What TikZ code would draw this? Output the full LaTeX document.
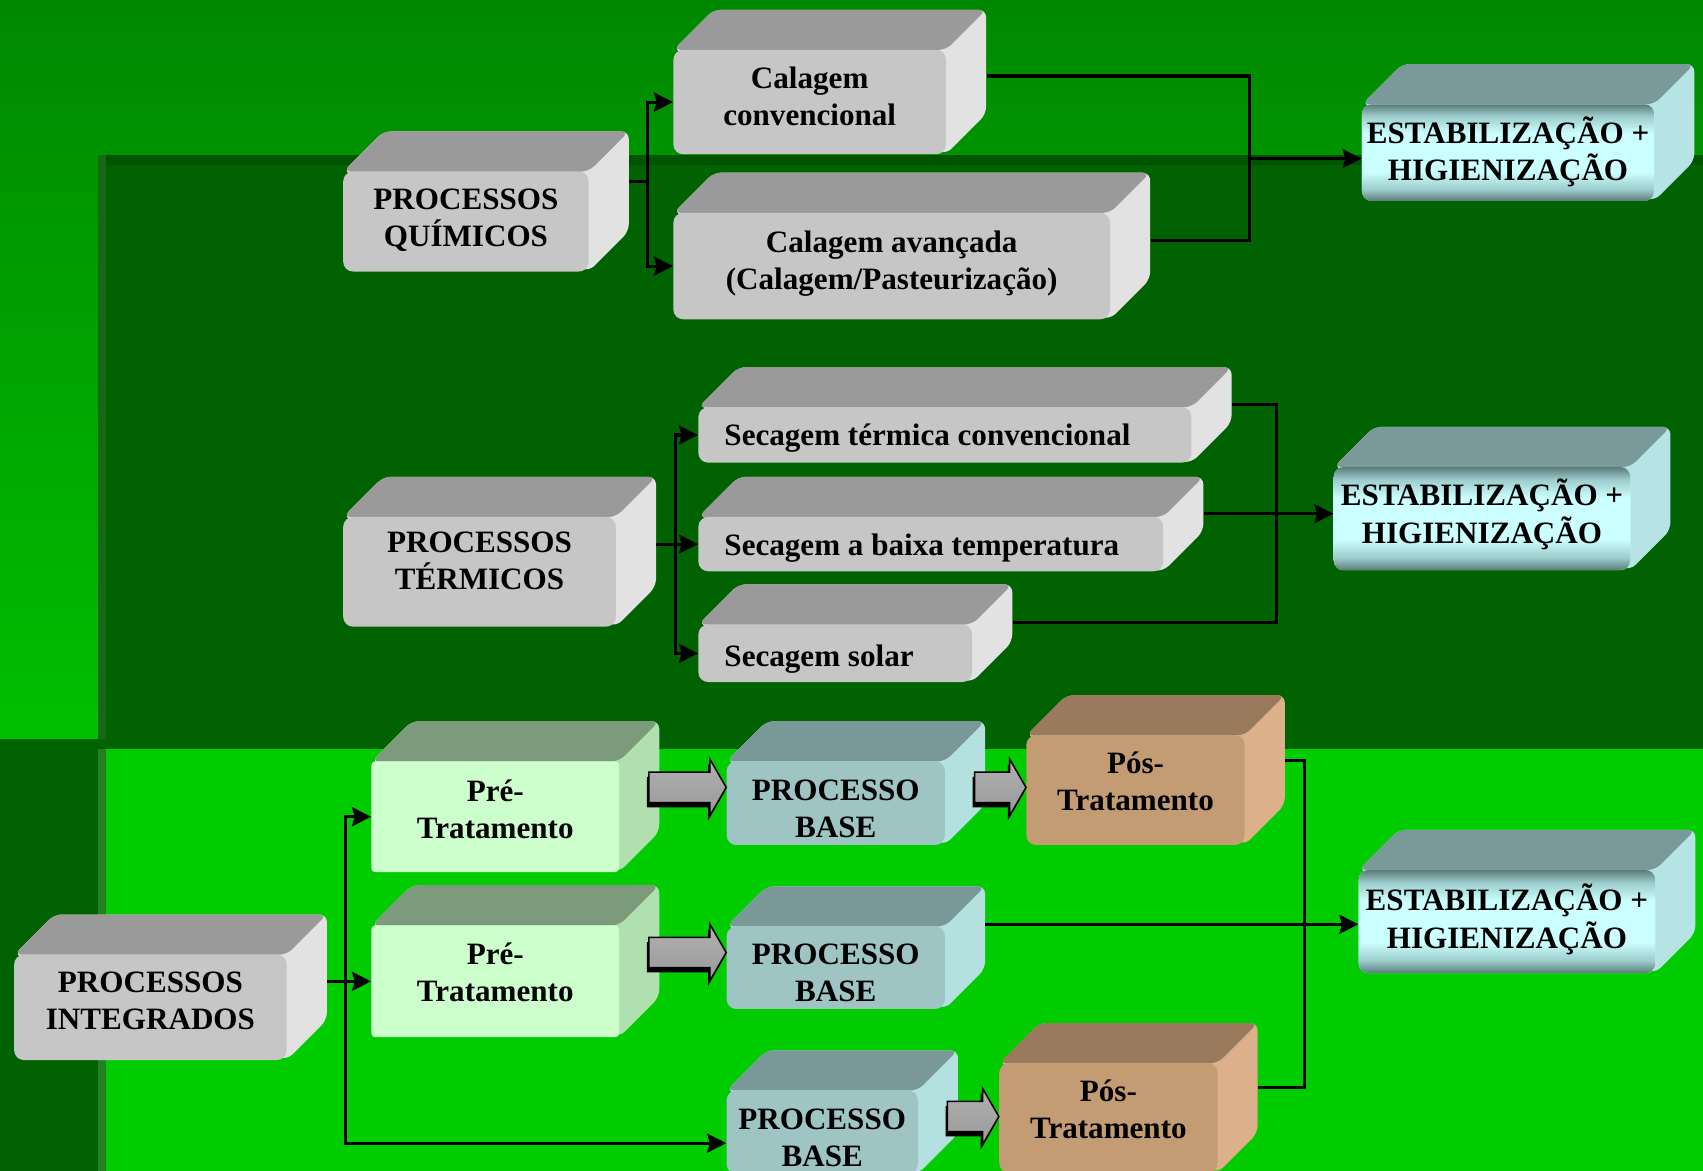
\documentclass[tikz,border=0pt]{standalone}
\usepackage{fontspec}
\setmainfont{Liberation Serif}
\usetikzlibrary{arrows.meta,calc,fit}

% background
\definecolor{bgtop}{HTML}{008800}
\definecolor{bgbot}{HTML}{00C000}
\definecolor{bgdark}{HTML}{006200}
\definecolor{bgband}{HTML}{005400}
\definecolor{bgedgeA}{HTML}{176717}
\definecolor{bgedgeB}{HTML}{238023}
\definecolor{bglight}{HTML}{00CC00}
% box faces
\definecolor{grayfront}{HTML}{C6C6C6}
\definecolor{graytop}{HTML}{9A9A9A}
\definecolor{grayside}{HTML}{E2E2E2}
\definecolor{estabfront}{HTML}{CCFFFF}
\definecolor{estabtop}{HTML}{7A9A9A}
\definecolor{estabside}{HTML}{B6E4E4}
\definecolor{estabdark}{HTML}{5C7A7A}
\definecolor{estabmid}{HTML}{9CCCCC}
\definecolor{establight}{HTML}{CCFFFF}
\definecolor{prefront}{HTML}{CCFFCC}
\definecolor{pretop}{HTML}{7C9A7C}
\definecolor{preside}{HTML}{B0E0B0}
\definecolor{basefront}{HTML}{9EC4C4}
\definecolor{basetop}{HTML}{7A9898}
\definecolor{baseside}{HTML}{B4E0E0}
\definecolor{posfront}{HTML}{C49C74}
\definecolor{postop}{HTML}{9A7A5C}
\definecolor{posside}{HTML}{DCB08A}
\definecolor{arrtop}{HTML}{B0B0B0}
\definecolor{arrmid}{HTML}{E0E0E0}
\definecolor{arrbot}{HTML}{9A9A9A}

\pgfdeclareverticalshading{estabshade}{100bp}{color(0bp)=(estabdark); color(25bp)=(estabdark); color(31bp)=(estabmid); color(40bp)=(establight); color(60bp)=(establight); color(69bp)=(estabmid); color(75bp)=(estabdark); color(100bp)=(estabdark)}

\newcommand{\dep}{37}

% 3d box: [front options]{colour set}{name}{front top left}{front bottom right}{text shift down}{text}
\newcommand{\boxcube}[7][]{%
  \coordinate (#3-tl) at (#4);
  \coordinate (#3-br) at (#5);
  \fill[#2side, rounded corners=4pt] (#3-tl) -- ++(\dep,-\dep) -| ($(#3-br)+(\dep,-\dep)$) -- (#3-br) -- cycle;
  \fill[#2top, rounded corners=4pt] (#3-tl) -- ++(\dep,-\dep) -- ($(#3-tl -| #3-br)+(\dep,-\dep)$) -- (#3-tl -| #3-br) -- cycle;
  \node[front, fill=#2front, fit=(#3-tl)(#3-br), #1] (#3) {};
  \node[cubetext] (#3-t) at ($(#3.center)+(0,#6)$) {#7};
  \coordinate (#3-r) at ($(#3.east)+(\dep,-\dep)$);
}

% fat grey arrow: {from}{to}{y}
\newcommand{\blockarr}[3]{%
  \coordinate (#1-#2-s) at ($(#1-r |- 0,#3)+(-10,0)$);
  \coordinate (#1-#2-e) at (#2.west |- 0,#3);
  \filldraw[blockarrow] ($(#1-#2-s)+(0,-14)$) -- ($(#1-#2-e)+(-15,-14)$) -- ($(#1-#2-e)+(-15,-26)$)
    -- (#1-#2-e) -- ($(#1-#2-e)+(-15,26)$) -- ($(#1-#2-e)+(-15,14)$) -- ($(#1-#2-s)+(0,14)$) -- cycle;
}

\begin{document}
\begin{tikzpicture}[
    x=0.02cm, y=-0.02cm,
    front/.style={inner sep=0pt, rounded corners=0.18cm},
    cubetext/.style={inner sep=0pt, align=center, font=\bfseries\fontsize{16.3}{19.5}\selectfont},
    conn/.style={line width=1.6pt, black},
    arrow/.style={conn, -{Stealth[length=10pt, width=10pt, inset=1.5pt]}},
    blockarrow/.style={top color=arrtop, middle color=arrmid, bottom color=arrbot, draw=black, line width=0.8pt,
      preaction={fill=black, transform canvas={xshift=-1pt, yshift=-2.5pt}}}
]

\useasboundingbox (0,0) rectangle (1568,1078);
\clip (0,0) rectangle (1568,1078);

% background panels
\shade[top color=bgtop, bottom color=bgbot] (0,0) rectangle (1568,690);
\fill[bgdark] (90,143) rectangle (1568,1078);
\fill[bgdark] (0,680) rectangle (90,1078);
\fill[bgband] (98,143) rectangle (1568,152);
\fill[bgedgeA] (90,143) rectangle (98,680);
\fill[bglight] (98,690) rectangle (1568,1078);
\fill[bgedgeB] (90,690) rectangle (98,1078);

% processos quimicos
\boxcube{gray}{quim}{316,158}{542,250}{-1}{PROCESSOS\\QUÍMICOS}
\boxcube{gray}{calconv}{620,46}{871,142}{-5}{Calagem\\convencional}
\boxcube{gray}{calav}{620,196}{1022,294}{-2}{Calagem avançada\\(Calagem/Pasteurização)}
\boxcube[shading=estabshade]{estab}{estab1}{1254,96}{1523,185}{-1}{ESTABILIZAÇÃO +\\HIGIENIZAÇÃO}

% processos termicos
\boxcube{gray}{term}{316,476}{567,577}{-10}{PROCESSOS\\TÉRMICOS}
\boxcube{gray}{secterm}{643,375}{1097,426}{3}{\makebox[8.12cm][l]{Secagem térmica convencional}}
\boxcube{gray}{secbaixa}{643,476}{1071,526}{4}{\makebox[7.6cm][l]{Secagem a baixa temperatura}}
\boxcube{gray}{secsolar}{643,575}{895,628}{5}{\makebox[4.08cm][l]{Secagem solar}}
\boxcube[shading=estabshade]{estab}{estab2}{1228,430}{1501,525}{-4}{ESTABILIZAÇÃO +\\HIGIENIZAÇÃO}

% processos integrados
\boxcube{gray}{integ}{13,879}{264,976}{-6}{PROCESSOS\\INTEGRADOS}
\boxcube[rounded corners=2pt]{pre}{pre1}{342,701}{570,803}{-7}{Pré-\\Tratamento}
\boxcube[rounded corners=2pt]{pre}{pre2}{342,852}{570,955}{-8}{Pré-\\Tratamento}
\boxcube{base}{base1}{669,701}{870,778}{5}{PROCESSO\\BASE}
\boxcube{base}{base2}{669,853}{870,929}{5}{PROCESSO\\BASE}
\boxcube{base}{base3}{669,1004}{845,1081}{5}{PROCESSO\\BASE}
\boxcube{pos}{pos1}{945,677}{1146,778}{-8}{Pós-\\Tratamento}
\boxcube{pos}{pos2}{920,979}{1121,1080}{-8}{Pós-\\Tratamento}
\boxcube[shading=estabshade]{estab}{estab3}{1251,801}{1524,896}{-2}{ESTABILIZAÇÃO +\\HIGIENIZAÇÃO}

% connectors
\draw[conn] (quim-r) -- ++(17,0) coordinate (jq);
\draw[arrow] (jq) |- (calconv.west);
\draw[arrow] (jq) |- (calav.west);
\coordinate (jc) at (1150,146);
\draw[conn] (calconv-r |- 0,70) -| (jc) |- (calav-r |- 0,221);
\draw[arrow] (jc) -- (estab1.west |- jc);

\draw[conn] (term-r |- secbaixa.west) -- ++(18,0) coordinate (jt);
\draw[arrow] (jt) -- (secbaixa.west);
\draw[arrow] (jt) |- (secterm.west);
\draw[arrow] (jt) |- (secsolar.west);
\coordinate (js) at (1175,473);
\draw[conn] (secterm-r |- 0,372) -| (js) |- (secsolar-r |- 0,573);
\draw[arrow] (secbaixa-r |- js) -- (estab2.west |- js);

\draw[conn] (integ-r |- pre2.west) -- ++(17,0) coordinate (ji);
\draw[arrow] (ji) -- (pre2.west);
\draw[arrow] (ji) |- (pre1.west);
\draw[arrow] (ji) |- ($(base3.west)+(0,10)$);
\blockarr{pre1}{base1}{725}
\blockarr{pre2}{base2}{877}
\blockarr{base1}{pos1}{725}
\blockarr{base3}{pos2}{1028}
\coordinate (jp) at (1201,851);
\draw[conn] (pos1-r |- 0,700) -| (jp) |- (pos2-r |- 0,1001);
\draw[arrow] (base2-r |- jp) -- (estab3.west |- jp);

\end{tikzpicture}
\end{document}
